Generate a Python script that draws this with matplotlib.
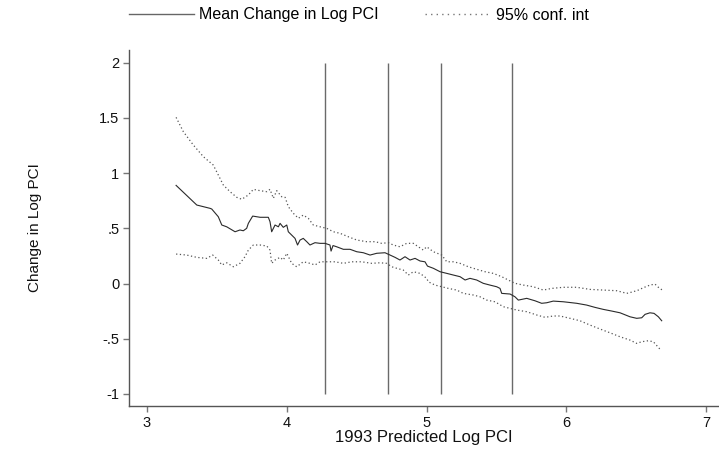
import matplotlib
matplotlib.use("Agg")
import matplotlib.pyplot as plt
from matplotlib.lines import Line2D

plt.rcParams['font.family'] = ['Liberation Sans', 'DejaVu Sans']

# Mean change in log PCI against 1993 predicted log PCI
mean_x = [3.208, 3.356, 3.451, 3.463, 3.510, 3.535, 3.570, 3.630, 3.665, 3.689,
          3.713, 3.725, 3.756, 3.809, 3.868, 3.880, 3.892, 3.916, 3.940, 3.952,
          3.975, 4.000, 4.011, 4.035, 4.059, 4.077, 4.095, 4.118, 4.143, 4.166,
          4.202, 4.238, 4.274, 4.309, 4.317, 4.331, 4.357, 4.405, 4.453, 4.501,
          4.548, 4.596, 4.644, 4.703, 4.739, 4.775, 4.810, 4.846, 4.882, 4.918,
          4.954, 4.989, 5.007, 5.049, 5.097, 5.145, 5.192, 5.240, 5.276, 5.311,
          5.359, 5.406, 5.454, 5.502, 5.526, 5.538, 5.598, 5.633, 5.657, 5.717,
          5.776, 5.824, 5.860, 5.907, 5.979, 6.075, 6.146, 6.206, 6.265, 6.325,
          6.385, 6.456, 6.504, 6.540, 6.564, 6.599, 6.628, 6.659, 6.683]
mean_y = [0.889, 0.711, 0.681, 0.675, 0.605, 0.530, 0.514, 0.469, 0.485, 0.478,
          0.500, 0.545, 0.611, 0.600, 0.600, 0.560, 0.469, 0.530, 0.514, 0.545,
          0.509, 0.530, 0.469, 0.439, 0.409, 0.349, 0.394, 0.409, 0.379, 0.349,
          0.370, 0.364, 0.364, 0.349, 0.294, 0.344, 0.333, 0.310, 0.310, 0.288,
          0.279, 0.258, 0.274, 0.279, 0.258, 0.237, 0.213, 0.243, 0.213, 0.228,
          0.204, 0.197, 0.158, 0.138, 0.107, 0.092, 0.077, 0.062, 0.032, 0.047,
          0.032, 0.002, -0.014, -0.029, -0.044, -0.089, -0.095, -0.120, -0.150, -0.134,
          -0.156, -0.179, -0.174, -0.159, -0.165, -0.179, -0.195, -0.216, -0.234, -0.249,
          -0.265, -0.301, -0.315, -0.310, -0.279, -0.265, -0.270, -0.301, -0.337]

# Upper bound of the 95% confidence interval
upper_x = [3.208, 3.260, 3.331, 3.403, 3.474, 3.522, 3.546, 3.594, 3.642, 3.678,
           3.725, 3.761, 3.809, 3.857, 3.880, 3.904, 3.928, 3.964, 3.988, 4.011,
           4.047, 4.083, 4.118, 4.154, 4.190, 4.238, 4.286, 4.333, 4.381, 4.440,
           4.501, 4.572, 4.632, 4.679, 4.727, 4.762, 4.810, 4.858, 4.906, 4.941,
           4.977, 5.001, 5.049, 5.109, 5.145, 5.192, 5.240, 5.299, 5.359, 5.419,
           5.478, 5.538, 5.585, 5.633, 5.693, 5.764, 5.836, 5.896, 5.979, 6.075,
           6.170, 6.265, 6.361, 6.433, 6.480, 6.516, 6.551, 6.599, 6.635, 6.659,
           6.687]
upper_y = [1.505, 1.375, 1.255, 1.149, 1.073, 0.953, 0.892, 0.832, 0.781, 0.763,
           0.802, 0.853, 0.841, 0.832, 0.853, 0.772, 0.841, 0.786, 0.781, 0.696,
           0.636, 0.591, 0.620, 0.591, 0.530, 0.514, 0.500, 0.469, 0.455, 0.424,
           0.394, 0.379, 0.379, 0.364, 0.370, 0.349, 0.333, 0.364, 0.364, 0.333,
           0.303, 0.333, 0.288, 0.258, 0.197, 0.197, 0.183, 0.152, 0.129, 0.107,
           0.092, 0.062, 0.032, 0.002, -0.014, -0.029, -0.059, -0.044, -0.034, -0.034,
           -0.053, -0.059, -0.065, -0.089, -0.074, -0.059, -0.038, -0.014, -0.005, -0.034,
           -0.059]

# Lower bound of the 95% confidence interval
lower_x = [3.208, 3.284, 3.356, 3.427, 3.470, 3.510, 3.535, 3.570, 3.618, 3.665,
           3.701, 3.725, 3.761, 3.809, 3.857, 3.880, 3.892, 3.916, 3.952, 3.975,
           4.000, 4.035, 4.071, 4.118, 4.166, 4.202, 4.238, 4.286, 4.345, 4.405,
           4.465, 4.536, 4.608, 4.667, 4.715, 4.751, 4.787, 4.834, 4.870, 4.906,
           4.954, 5.001, 5.013, 5.061, 5.109, 5.156, 5.216, 5.263, 5.335, 5.383,
           5.431, 5.490, 5.550, 5.598, 5.645, 5.717, 5.789, 5.848, 5.907, 5.955,
           6.027, 6.098, 6.170, 6.242, 6.313, 6.385, 6.456, 6.504, 6.540, 6.587,
           6.623, 6.659, 6.676]
lower_y = [0.267, 0.258, 0.237, 0.228, 0.258, 0.213, 0.168, 0.188, 0.152, 0.183,
           0.243, 0.303, 0.349, 0.349, 0.340, 0.303, 0.183, 0.213, 0.237, 0.213,
           0.274, 0.183, 0.152, 0.197, 0.183, 0.168, 0.197, 0.197, 0.197, 0.183,
           0.197, 0.197, 0.183, 0.188, 0.183, 0.152, 0.138, 0.122, 0.077, 0.107,
           0.092, 0.047, 0.016, -0.014, -0.029, -0.044, -0.059, -0.089, -0.104, -0.120,
           -0.150, -0.165, -0.210, -0.225, -0.240, -0.255, -0.285, -0.306, -0.294, -0.294,
           -0.315, -0.337, -0.376, -0.412, -0.446, -0.482, -0.512, -0.542, -0.527, -0.518,
           -0.527, -0.578, -0.602]

# Vertical reference lines on the x axis
cutoffs = [4.277, 4.723, 5.104, 5.610]

x_ticks = [3, 4, 5, 6, 7]
y_ticks = [2, 1.5, 1, 0.5, 0, -0.5, -1]
y_tick_labels = ['2', '1.5', '1', '.5', '0', '-.5', '-1']

fig = plt.figure(figsize=(7.19, 4.54), dpi=100)
ax = fig.add_axes([129 / 719, 1 - 406 / 454, 1 - 129 / 719, (406 - 50) / 454])

ax.vlines(cutoffs, -1, 2, color='#6a6a6a', linewidth=1.0, zorder=1)
ax.plot(upper_x, upper_y, color='#555555', linewidth=0.9, linestyle=(0, (1, 2)), zorder=2)
ax.plot(lower_x, lower_y, color='#555555', linewidth=0.9, linestyle=(0, (1, 2)), zorder=2)
ax.plot(mean_x, mean_y, color='#2a2a2a', linewidth=0.8, zorder=3)

ax.set_xlim(2.871, 7.093)
ax.set_ylim(-1.109, 2.115)
ax.set_xticks(x_ticks)
ax.set_yticks(y_ticks)
ax.set_yticklabels(y_tick_labels)

for side in ('top', 'right'):
    ax.spines[side].set_visible(False)
for side in ('left', 'bottom'):
    ax.spines[side].set_color('#555555')
    ax.spines[side].set_linewidth(1.0)
ax.tick_params(axis='both', direction='out', length=4.5, width=1.0, color='#777777',
               labelsize=10.5, labelcolor='#111111', pad=2.5)

ax.set_xlabel('1993 Predicted Log PCI', fontsize=12, color='#111111', labelpad=0.5)
ax.set_ylabel('Change in Log PCI', fontsize=11, color='#111111', labelpad=41)

handles = [Line2D([], [], color='#666666', linewidth=1.0),
           Line2D([], [], color='#777777', linewidth=1.0, linestyle=(0, (1, 3)))]
fig.legend(handles, ['Mean Change in Log PCI', '95% conf. int'],
           loc='center left', bbox_to_anchor=(129 / 719, 1 - 15 / 454), ncol=2,
           frameon=False, fontsize=11.5, handlelength=4.1, handletextpad=0.3,
           columnspacing=2.9, borderaxespad=0, borderpad=0)

fig.savefig('out.png', dpi=100, facecolor='white')
